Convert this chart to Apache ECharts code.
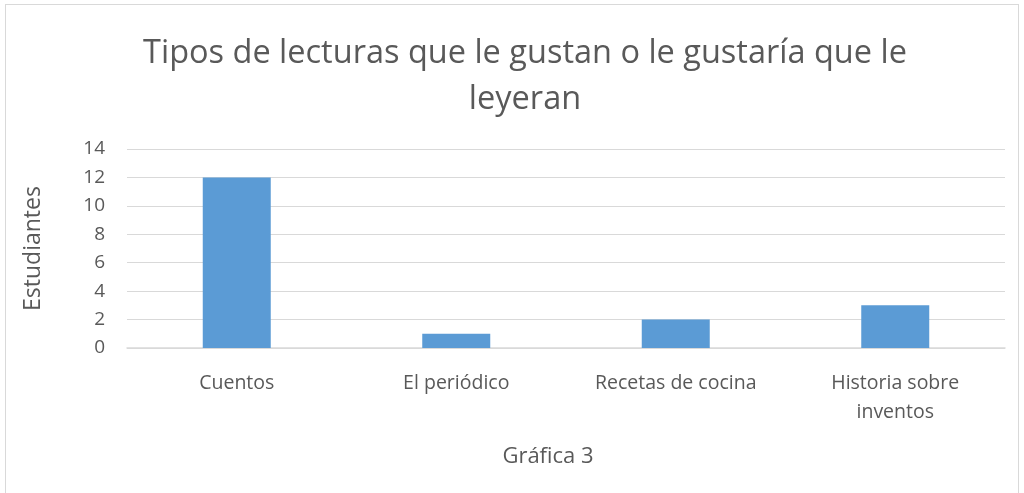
<!DOCTYPE html>
<html>
<head>
<meta charset="utf-8">
<script src="https://cdn.jsdelivr.net/npm/echarts@6/dist/echarts.min.js"></script>
<style>
  html, body { margin: 0; padding: 0; background: #fff; }
  #box {
    position: absolute; left: 5px; top: 4px; width: 1014px; height: 495px;
    border: 1px solid #d9d9d9; box-sizing: border-box;
  }
  #chart { position: absolute; left: 0; top: 0; width: 1024px; height: 493px; }
</style>
</head>
<body>
<div id="box"></div>
<div id="chart"></div>
<script>
// datos de la gráfica
const categorias = ['Cuentos', 'El periódico', 'Recetas de cocina', 'Historia sobre\ninventos'];
const estudiantes = [12, 1, 2, 3];
const titulo = 'Tipos de lecturas que le gustan o le gustaría que le\nleyeran';

const fuente = '"Open Sans", "Noto Sans", sans-serif';
const gris = '#595959';

const chart = echarts.init(document.getElementById('chart'));
chart.setOption({
  animation: false,
  title: {
    text: titulo,
    left: 520,
    textAlign: 'center',
    top: 26,
    textStyle: { fontFamily: fuente, fontSize: 32.5, fontWeight: 'normal', color: gris, lineHeight: 46 }
  },
  grid: { left: 127, right: 19, top: 149, bottom: 145 },
  xAxis: {
    type: 'category',
    data: categorias,
    name: 'Gráfica 3',
    nameLocation: 'middle',
    nameGap: 98,
    nameTextStyle: { fontFamily: fuente, fontSize: 22, color: gris, padding: [0, 36, 0, 0] },
    axisLine: { lineStyle: { color: '#d9d9d9', width: 1.5 } },
    axisTick: { show: false },
    axisLabel: { fontFamily: fuente, fontSize: 19.5, color: gris, margin: 21, lineHeight: 29, interval: 0 }
  },
  yAxis: {
    type: 'value',
    min: 0,
    max: 14,
    interval: 2,
    name: 'Estudiantes',
    nameLocation: 'middle',
    nameGap: 82,
    nameTextStyle: { fontFamily: fuente, fontSize: 23, color: gris },
    axisLine: { show: false },
    axisLabel: { fontFamily: fuente, fontSize: 19, color: gris, margin: 22 },
    splitLine: { lineStyle: { color: '#d9d9d9', width: 1 } }
  },
  series: [{
    type: 'bar',
    data: estudiantes,
    barWidth: 68,
    itemStyle: { color: '#5b9bd5' }
  }]
});
</script>
</body>
</html>
